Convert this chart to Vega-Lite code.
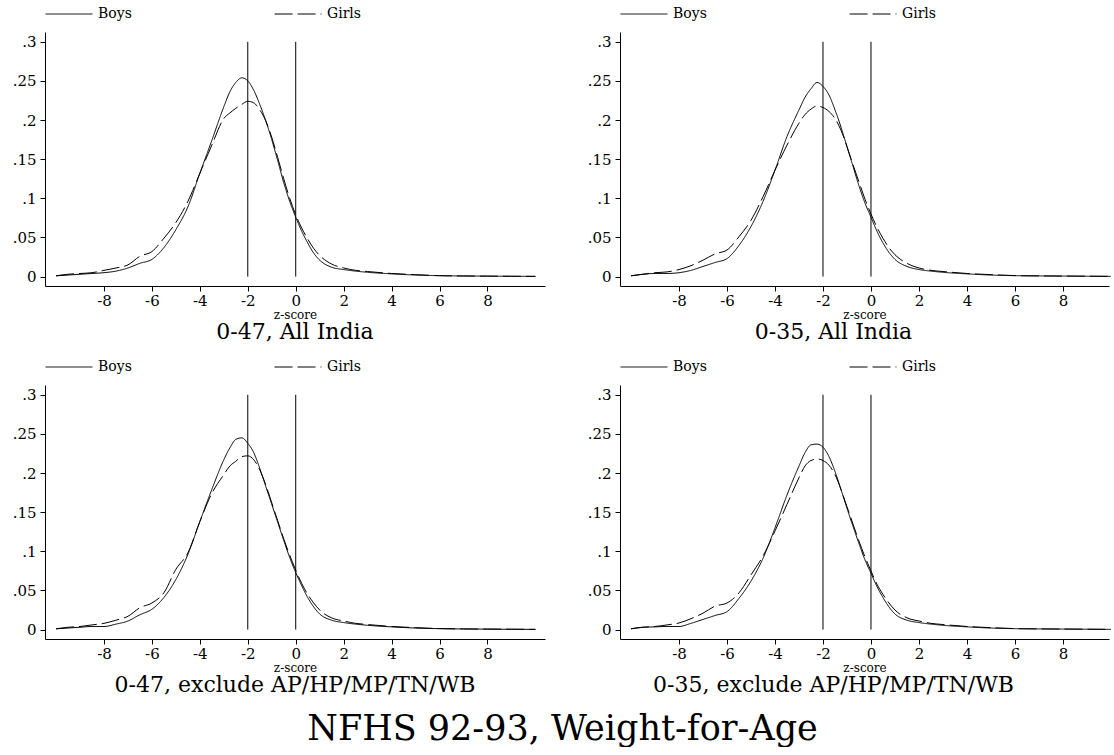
{
"$schema": "https://vega.github.io/schema/vega-lite/v6.json",
"padding": {"left": 12, "top": -10, "right": 0, "bottom": 0},
"config": {
  "font": "DejaVu Serif",
  "view": {"stroke": null},
  "axis": {"grid": false},
  "title": {"font": "DejaVu Serif", "fontWeight": "normal", "color": "black"}
},
"datasets": {
"p1": [
{"s":"Boys","z":-10,"d":0.001},{"s":"Boys","z":-9.5,"d":0.002},{"s":"Boys","z":-9,"d":0.003},{"s":"Boys","z":-8.5,"d":0.004},{"s":"Boys","z":-8,"d":0.005},{"s":"Boys","z":-7.5,"d":0.007},{"s":"Boys","z":-7,"d":0.011},{"s":"Boys","z":-6.5,"d":0.017},{"s":"Boys","z":-6,"d":0.022},{"s":"Boys","z":-5.5,"d":0.037},{"s":"Boys","z":-5,"d":0.060},{"s":"Boys","z":-4.5,"d":0.089},{"s":"Boys","z":-4,"d":0.132},{"s":"Boys","z":-3.5,"d":0.174},{"s":"Boys","z":-3,"d":0.217},{"s":"Boys","z":-2.75,"d":0.236},{"s":"Boys","z":-2.5,"d":0.248},{"s":"Boys","z":-2.25,"d":0.254},{"s":"Boys","z":-2,"d":0.250},{"s":"Boys","z":-1.75,"d":0.238},{"s":"Boys","z":-1.5,"d":0.220},{"s":"Boys","z":-1.25,"d":0.199},{"s":"Boys","z":-1,"d":0.175},{"s":"Boys","z":-0.75,"d":0.148},{"s":"Boys","z":-0.5,"d":0.120},{"s":"Boys","z":-0.25,"d":0.096},{"s":"Boys","z":0,"d":0.076},
{"s":"Boys","z":0.25,"d":0.058},{"s":"Boys","z":0.5,"d":0.043},{"s":"Boys","z":0.75,"d":0.030},{"s":"Boys","z":1,"d":0.021},{"s":"Boys","z":1.5,"d":0.012},{"s":"Boys","z":2,"d":0.009},{"s":"Boys","z":2.5,"d":0.007},{"s":"Boys","z":3,"d":0.0055},{"s":"Boys","z":4,"d":0.0035},{"s":"Boys","z":5,"d":0.002},{"s":"Boys","z":6,"d":0.0012},{"s":"Boys","z":7,"d":0.0008},{"s":"Boys","z":8,"d":0.0006},{"s":"Boys","z":9,"d":0.0004},{"s":"Boys","z":10,"d":0.0003},
{"s":"Girls","z":-10,"d":0.001},{"s":"Girls","z":-9.5,"d":0.003},{"s":"Girls","z":-9,"d":0.004},{"s":"Girls","z":-8.5,"d":0.005},{"s":"Girls","z":-8,"d":0.008},{"s":"Girls","z":-7.5,"d":0.011},{"s":"Girls","z":-7,"d":0.015},{"s":"Girls","z":-6.5,"d":0.026},{"s":"Girls","z":-6,"d":0.032},{"s":"Girls","z":-5.5,"d":0.049},{"s":"Girls","z":-5,"d":0.069},{"s":"Girls","z":-4.5,"d":0.096},{"s":"Girls","z":-4,"d":0.132},{"s":"Girls","z":-3.5,"d":0.168},{"s":"Girls","z":-3,"d":0.202},{"s":"Girls","z":-2.75,"d":0.209},{"s":"Girls","z":-2.5,"d":0.215},{"s":"Girls","z":-2.25,"d":0.220},{"s":"Girls","z":-2,"d":0.224},{"s":"Girls","z":-1.75,"d":0.222},{"s":"Girls","z":-1.5,"d":0.213},{"s":"Girls","z":-1.25,"d":0.199},{"s":"Girls","z":-1,"d":0.178},{"s":"Girls","z":-0.75,"d":0.152},{"s":"Girls","z":-0.5,"d":0.125},{"s":"Girls","z":-0.25,"d":0.100},{"s":"Girls","z":0,"d":0.079},
{"s":"Girls","z":0.25,"d":0.062},{"s":"Girls","z":0.5,"d":0.048},{"s":"Girls","z":0.75,"d":0.036},{"s":"Girls","z":1,"d":0.027},{"s":"Girls","z":1.5,"d":0.016},{"s":"Girls","z":2,"d":0.011},{"s":"Girls","z":2.5,"d":0.008},{"s":"Girls","z":3,"d":0.0065},{"s":"Girls","z":4,"d":0.004},{"s":"Girls","z":5,"d":0.0025},{"s":"Girls","z":6,"d":0.0012},{"s":"Girls","z":7,"d":0.0008},{"s":"Girls","z":8,"d":0.0006},{"s":"Girls","z":9,"d":0.0004},{"s":"Girls","z":10,"d":0.0003}
],
"p2": [
{"s":"Boys","z":-10,"d":0.001},{"s":"Boys","z":-9.5,"d":0.003},{"s":"Boys","z":-9,"d":0.004},{"s":"Boys","z":-8.5,"d":0.004},{"s":"Boys","z":-8,"d":0.005},{"s":"Boys","z":-7.5,"d":0.008},{"s":"Boys","z":-7,"d":0.013},{"s":"Boys","z":-6.5,"d":0.018},{"s":"Boys","z":-6,"d":0.023},{"s":"Boys","z":-5.5,"d":0.040},{"s":"Boys","z":-5,"d":0.064},{"s":"Boys","z":-4.5,"d":0.096},{"s":"Boys","z":-4,"d":0.136},{"s":"Boys","z":-3.5,"d":0.179},{"s":"Boys","z":-3,"d":0.213},{"s":"Boys","z":-2.75,"d":0.229},{"s":"Boys","z":-2.5,"d":0.240},{"s":"Boys","z":-2.25,"d":0.248},{"s":"Boys","z":-2,"d":0.243},{"s":"Boys","z":-1.75,"d":0.232},{"s":"Boys","z":-1.5,"d":0.213},{"s":"Boys","z":-1.25,"d":0.191},{"s":"Boys","z":-1,"d":0.166},{"s":"Boys","z":-0.75,"d":0.141},{"s":"Boys","z":-0.5,"d":0.116},{"s":"Boys","z":-0.25,"d":0.094},{"s":"Boys","z":0,"d":0.076},
{"s":"Boys","z":0.25,"d":0.058},{"s":"Boys","z":0.5,"d":0.043},{"s":"Boys","z":0.75,"d":0.031},{"s":"Boys","z":1,"d":0.022},{"s":"Boys","z":1.5,"d":0.013},{"s":"Boys","z":2,"d":0.009},{"s":"Boys","z":2.5,"d":0.007},{"s":"Boys","z":3,"d":0.0055},{"s":"Boys","z":4,"d":0.0035},{"s":"Boys","z":5,"d":0.002},{"s":"Boys","z":6,"d":0.0012},{"s":"Boys","z":7,"d":0.0009},{"s":"Boys","z":8,"d":0.0007},{"s":"Boys","z":9,"d":0.0005},{"s":"Boys","z":10,"d":0.0003},
{"s":"Girls","z":-10,"d":0.001},{"s":"Girls","z":-9.5,"d":0.003},{"s":"Girls","z":-9,"d":0.005},{"s":"Girls","z":-8.5,"d":0.006},{"s":"Girls","z":-8,"d":0.009},{"s":"Girls","z":-7.5,"d":0.014},{"s":"Girls","z":-7,"d":0.021},{"s":"Girls","z":-6.5,"d":0.029},{"s":"Girls","z":-6,"d":0.034},{"s":"Girls","z":-5.5,"d":0.051},{"s":"Girls","z":-5,"d":0.072},{"s":"Girls","z":-4.5,"d":0.102},{"s":"Girls","z":-4,"d":0.136},{"s":"Girls","z":-3.5,"d":0.168},{"s":"Girls","z":-3,"d":0.196},{"s":"Girls","z":-2.75,"d":0.207},{"s":"Girls","z":-2.5,"d":0.214},{"s":"Girls","z":-2.25,"d":0.218},{"s":"Girls","z":-2,"d":0.216},{"s":"Girls","z":-1.75,"d":0.211},{"s":"Girls","z":-1.5,"d":0.202},{"s":"Girls","z":-1.25,"d":0.187},{"s":"Girls","z":-1,"d":0.166},{"s":"Girls","z":-0.75,"d":0.143},{"s":"Girls","z":-0.5,"d":0.121},{"s":"Girls","z":-0.25,"d":0.099},{"s":"Girls","z":0,"d":0.080},
{"s":"Girls","z":0.25,"d":0.063},{"s":"Girls","z":0.5,"d":0.049},{"s":"Girls","z":0.75,"d":0.037},{"s":"Girls","z":1,"d":0.028},{"s":"Girls","z":1.5,"d":0.017},{"s":"Girls","z":2,"d":0.011},{"s":"Girls","z":2.5,"d":0.008},{"s":"Girls","z":3,"d":0.0065},{"s":"Girls","z":4,"d":0.004},{"s":"Girls","z":5,"d":0.0025},{"s":"Girls","z":6,"d":0.0013},{"s":"Girls","z":7,"d":0.0009},{"s":"Girls","z":8,"d":0.0007},{"s":"Girls","z":9,"d":0.0005},{"s":"Girls","z":10,"d":0.0003}
],
"p3": [
{"s":"Boys","z":-10,"d":0.001},{"s":"Boys","z":-9.5,"d":0.002},{"s":"Boys","z":-9,"d":0.003},{"s":"Boys","z":-8.5,"d":0.004},{"s":"Boys","z":-8,"d":0.004},{"s":"Boys","z":-7.5,"d":0.007},{"s":"Boys","z":-7,"d":0.011},{"s":"Boys","z":-6.5,"d":0.019},{"s":"Boys","z":-6,"d":0.026},{"s":"Boys","z":-5.5,"d":0.041},{"s":"Boys","z":-5,"d":0.064},{"s":"Boys","z":-4.5,"d":0.096},{"s":"Boys","z":-4,"d":0.138},{"s":"Boys","z":-3.5,"d":0.179},{"s":"Boys","z":-3,"d":0.217},{"s":"Boys","z":-2.75,"d":0.232},{"s":"Boys","z":-2.5,"d":0.243},{"s":"Boys","z":-2.25,"d":0.245},{"s":"Boys","z":-2,"d":0.238},{"s":"Boys","z":-1.75,"d":0.226},{"s":"Boys","z":-1.5,"d":0.206},{"s":"Boys","z":-1.25,"d":0.183},{"s":"Boys","z":-1,"d":0.160},{"s":"Boys","z":-0.75,"d":0.137},{"s":"Boys","z":-0.5,"d":0.114},{"s":"Boys","z":-0.25,"d":0.092},{"s":"Boys","z":0,"d":0.073},
{"s":"Boys","z":0.25,"d":0.056},{"s":"Boys","z":0.5,"d":0.041},{"s":"Boys","z":0.75,"d":0.029},{"s":"Boys","z":1,"d":0.020},{"s":"Boys","z":1.5,"d":0.012},{"s":"Boys","z":2,"d":0.009},{"s":"Boys","z":2.5,"d":0.007},{"s":"Boys","z":3,"d":0.0055},{"s":"Boys","z":4,"d":0.0035},{"s":"Boys","z":5,"d":0.002},{"s":"Boys","z":6,"d":0.0012},{"s":"Boys","z":7,"d":0.0008},{"s":"Boys","z":8,"d":0.0006},{"s":"Boys","z":9,"d":0.0004},{"s":"Boys","z":10,"d":0.0003},
{"s":"Girls","z":-10,"d":0.001},{"s":"Girls","z":-9.5,"d":0.003},{"s":"Girls","z":-9,"d":0.004},{"s":"Girls","z":-8.5,"d":0.006},{"s":"Girls","z":-8,"d":0.008},{"s":"Girls","z":-7.5,"d":0.012},{"s":"Girls","z":-7,"d":0.017},{"s":"Girls","z":-6.5,"d":0.028},{"s":"Girls","z":-6,"d":0.034},{"s":"Girls","z":-5.5,"d":0.047},{"s":"Girls","z":-5,"d":0.077},{"s":"Girls","z":-4.5,"d":0.098},{"s":"Girls","z":-4,"d":0.138},{"s":"Girls","z":-3.5,"d":0.174},{"s":"Girls","z":-3,"d":0.198},{"s":"Girls","z":-2.75,"d":0.209},{"s":"Girls","z":-2.5,"d":0.215},{"s":"Girls","z":-2.25,"d":0.221},{"s":"Girls","z":-2,"d":0.222},{"s":"Girls","z":-1.75,"d":0.217},{"s":"Girls","z":-1.5,"d":0.204},{"s":"Girls","z":-1.25,"d":0.185},{"s":"Girls","z":-1,"d":0.162},{"s":"Girls","z":-0.75,"d":0.139},{"s":"Girls","z":-0.5,"d":0.116},{"s":"Girls","z":-0.25,"d":0.095},{"s":"Girls","z":0,"d":0.076},
{"s":"Girls","z":0.25,"d":0.059},{"s":"Girls","z":0.5,"d":0.045},{"s":"Girls","z":0.75,"d":0.034},{"s":"Girls","z":1,"d":0.025},{"s":"Girls","z":1.5,"d":0.015},{"s":"Girls","z":2,"d":0.011},{"s":"Girls","z":2.5,"d":0.008},{"s":"Girls","z":3,"d":0.0065},{"s":"Girls","z":4,"d":0.004},{"s":"Girls","z":5,"d":0.0025},{"s":"Girls","z":6,"d":0.0013},{"s":"Girls","z":7,"d":0.0009},{"s":"Girls","z":8,"d":0.0007},{"s":"Girls","z":9,"d":0.0005},{"s":"Girls","z":10,"d":0.0003}
],
"p4": [
{"s":"Boys","z":-10,"d":0.001},{"s":"Boys","z":-9.5,"d":0.003},{"s":"Boys","z":-9,"d":0.0035},{"s":"Boys","z":-8.5,"d":0.004},{"s":"Boys","z":-8,"d":0.004},{"s":"Boys","z":-7.5,"d":0.008},{"s":"Boys","z":-7,"d":0.013},{"s":"Boys","z":-6.5,"d":0.018},{"s":"Boys","z":-6,"d":0.023},{"s":"Boys","z":-5.5,"d":0.040},{"s":"Boys","z":-5,"d":0.062},{"s":"Boys","z":-4.5,"d":0.091},{"s":"Boys","z":-4,"d":0.130},{"s":"Boys","z":-3.5,"d":0.172},{"s":"Boys","z":-3,"d":0.209},{"s":"Boys","z":-2.75,"d":0.226},{"s":"Boys","z":-2.5,"d":0.236},{"s":"Boys","z":-2.25,"d":0.237},{"s":"Boys","z":-2,"d":0.233},{"s":"Boys","z":-1.75,"d":0.221},{"s":"Boys","z":-1.5,"d":0.202},{"s":"Boys","z":-1.25,"d":0.179},{"s":"Boys","z":-1,"d":0.155},{"s":"Boys","z":-0.75,"d":0.132},{"s":"Boys","z":-0.5,"d":0.110},{"s":"Boys","z":-0.25,"d":0.089},{"s":"Boys","z":0,"d":0.072},
{"s":"Boys","z":0.25,"d":0.055},{"s":"Boys","z":0.5,"d":0.041},{"s":"Boys","z":0.75,"d":0.029},{"s":"Boys","z":1,"d":0.020},{"s":"Boys","z":1.5,"d":0.012},{"s":"Boys","z":2,"d":0.009},{"s":"Boys","z":2.5,"d":0.007},{"s":"Boys","z":3,"d":0.0055},{"s":"Boys","z":4,"d":0.0035},{"s":"Boys","z":5,"d":0.002},{"s":"Boys","z":6,"d":0.0012},{"s":"Boys","z":7,"d":0.0009},{"s":"Boys","z":8,"d":0.0007},{"s":"Boys","z":9,"d":0.0005},{"s":"Boys","z":10,"d":0.0003},
{"s":"Girls","z":-10,"d":0.001},{"s":"Girls","z":-9.5,"d":0.003},{"s":"Girls","z":-9,"d":0.004},{"s":"Girls","z":-8.5,"d":0.006},{"s":"Girls","z":-8,"d":0.0085},{"s":"Girls","z":-7.5,"d":0.014},{"s":"Girls","z":-7,"d":0.021},{"s":"Girls","z":-6.5,"d":0.030},{"s":"Girls","z":-6,"d":0.034},{"s":"Girls","z":-5.5,"d":0.047},{"s":"Girls","z":-5,"d":0.070},{"s":"Girls","z":-4.5,"d":0.094},{"s":"Girls","z":-4,"d":0.126},{"s":"Girls","z":-3.5,"d":0.160},{"s":"Girls","z":-3,"d":0.194},{"s":"Girls","z":-2.75,"d":0.209},{"s":"Girls","z":-2.5,"d":0.216},{"s":"Girls","z":-2.25,"d":0.218},{"s":"Girls","z":-2,"d":0.216},{"s":"Girls","z":-1.75,"d":0.210},{"s":"Girls","z":-1.5,"d":0.198},{"s":"Girls","z":-1.25,"d":0.179},{"s":"Girls","z":-1,"d":0.157},{"s":"Girls","z":-0.75,"d":0.135},{"s":"Girls","z":-0.5,"d":0.113},{"s":"Girls","z":-0.25,"d":0.093},{"s":"Girls","z":0,"d":0.075},
{"s":"Girls","z":0.25,"d":0.058},{"s":"Girls","z":0.5,"d":0.045},{"s":"Girls","z":0.75,"d":0.034},{"s":"Girls","z":1,"d":0.025},{"s":"Girls","z":1.5,"d":0.015},{"s":"Girls","z":2,"d":0.011},{"s":"Girls","z":2.5,"d":0.008},{"s":"Girls","z":3,"d":0.0065},{"s":"Girls","z":4,"d":0.004},{"s":"Girls","z":5,"d":0.0025},{"s":"Girls","z":6,"d":0.0013},{"s":"Girls","z":7,"d":0.0009},{"s":"Girls","z":8,"d":0.0007},{"s":"Girls","z":9,"d":0.0005},{"s":"Girls","z":10,"d":0.0003}
],
"refs": [{"z": -2}, {"z": 0}]
},
"title": {"text": "NFHS 92-93, Weight-for-Age", "orient": "bottom", "anchor": "middle", "fontSize": 35, "offset": 16},
"spacing": 0,
"resolve": {"scale": {"strokeDash": "independent", "x": "independent", "y": "independent"}, "legend": {"strokeDash": "independent"}},
"vconcat": [
 {"spacing": 42,
  "resolve": {"scale": {"strokeDash": "independent", "x": "independent", "y": "independent"}, "legend": {"strokeDash": "independent"}},
  "hconcat": [
  {"width": 500, "height": 254,
   "title": {"text": "0-47, All India", "orient": "bottom", "fontSize": 22, "offset": 2},
   "layer": [
    {"data": {"name": "p1"}, "mark": {"type": "line", "color": "black", "strokeWidth": 1, "interpolate": "monotone"},
     "encoding": {
      "x": {"field": "z", "type": "quantitative", "scale": {"domain": [-10.46, 10.4], "nice": false, "zero": false}, "axis": {"values": [-8,-6,-4,-2,0,2,4,6,8], "labelExpr": "'' + datum.value", "title": "z-score", "labelFont": "DejaVu Serif", "labelFontSize": 15, "labelColor": "black", "domainColor": "black", "tickColor": "black", "tickSize": 5, "labelPadding": 2, "titleFont": "DejaVu Serif", "titleFontSize": 12, "titleFontWeight": "normal", "titleColor": "black", "titlePadding": 1}},
      "y": {"field": "d", "type": "quantitative", "scale": {"domain": [-0.012, 0.3125], "nice": false}, "axis": {"values": [0,0.05,0.1,0.15,0.2,0.25,0.3], "labelExpr": "replace(format(datum.value, '.2~f'), '0.', '.')", "title": null, "labelFont": "DejaVu Serif", "labelFontSize": 15, "labelColor": "black", "domainColor": "black", "tickColor": "black", "tickSize": 5, "labelPadding": 4}},
      "strokeDash": {"field": "s", "type": "nominal", "scale": {"domain": ["Boys","Girls"], "range": [[1,0],[18,5]]}, "legend": {"title": null, "orient": "top", "direction": "horizontal", "symbolType": "stroke", "symbolSize": 2200, "symbolStrokeWidth": 1, "symbolStrokeColor": "black", "labelFont": "DejaVu Serif", "labelFontSize": 14, "labelColor": "black", "labelOffset": 5, "columnPadding": 140, "offset": 11}}
     }},
    {"data": {"name": "refs"}, "mark": {"type": "rule", "color": "black", "strokeWidth": 1},
     "encoding": {"x": {"field": "z", "type": "quantitative"}, "y": {"datum": 0}, "y2": {"datum": 0.3}}}
   ]},
  {"width": 489, "height": 254,
   "title": {"text": "0-35, All India", "orient": "bottom", "fontSize": 22, "offset": 2, "dx": -31},
   "layer": [
    {"data": {"name": "p2"}, "mark": {"type": "line", "color": "black", "strokeWidth": 1, "interpolate": "monotone"},
     "encoding": {
      "x": {"field": "z", "type": "quantitative", "scale": {"domain": [-10.46, 9.92], "nice": false, "zero": false}, "axis": {"values": [-8,-6,-4,-2,0,2,4,6,8], "labelExpr": "'' + datum.value", "title": "z-score", "labelFont": "DejaVu Serif", "labelFontSize": 15, "labelColor": "black", "domainColor": "black", "tickColor": "black", "tickSize": 5, "labelPadding": 2, "titleFont": "DejaVu Serif", "titleFontSize": 12, "titleFontWeight": "normal", "titleColor": "black", "titlePadding": 1}},
      "y": {"field": "d", "type": "quantitative", "scale": {"domain": [-0.012, 0.3125], "nice": false}, "axis": {"values": [0,0.05,0.1,0.15,0.2,0.25,0.3], "labelExpr": "replace(format(datum.value, '.2~f'), '0.', '.')", "title": null, "labelFont": "DejaVu Serif", "labelFontSize": 15, "labelColor": "black", "domainColor": "black", "tickColor": "black", "tickSize": 5, "labelPadding": 4}},
      "strokeDash": {"field": "s", "type": "nominal", "scale": {"domain": ["Boys","Girls"], "range": [[1,0],[18,5]]}, "legend": {"title": null, "orient": "top", "direction": "horizontal", "symbolType": "stroke", "symbolSize": 2200, "symbolStrokeWidth": 1, "symbolStrokeColor": "black", "labelFont": "DejaVu Serif", "labelFontSize": 14, "labelColor": "black", "labelOffset": 5, "columnPadding": 140, "offset": 11}}
     }},
    {"data": {"name": "refs"}, "mark": {"type": "rule", "color": "black", "strokeWidth": 1},
     "encoding": {"x": {"field": "z", "type": "quantitative"}, "y": {"datum": 0}, "y2": {"datum": 0.3}}}
   ]}
 ]},
 {"spacing": 42,
  "resolve": {"scale": {"strokeDash": "independent", "x": "independent", "y": "independent"}, "legend": {"strokeDash": "independent"}},
  "hconcat": [
  {"width": 500, "height": 254,
   "title": {"text": "0-47, exclude AP/HP/MP/TN/WB", "orient": "bottom", "fontSize": 22, "offset": 2},
   "layer": [
    {"data": {"name": "p3"}, "mark": {"type": "line", "color": "black", "strokeWidth": 1, "interpolate": "monotone"},
     "encoding": {
      "x": {"field": "z", "type": "quantitative", "scale": {"domain": [-10.46, 10.4], "nice": false, "zero": false}, "axis": {"values": [-8,-6,-4,-2,0,2,4,6,8], "labelExpr": "'' + datum.value", "title": "z-score", "labelFont": "DejaVu Serif", "labelFontSize": 15, "labelColor": "black", "domainColor": "black", "tickColor": "black", "tickSize": 5, "labelPadding": 2, "titleFont": "DejaVu Serif", "titleFontSize": 12, "titleFontWeight": "normal", "titleColor": "black", "titlePadding": 1}},
      "y": {"field": "d", "type": "quantitative", "scale": {"domain": [-0.012, 0.3125], "nice": false}, "axis": {"values": [0,0.05,0.1,0.15,0.2,0.25,0.3], "labelExpr": "replace(format(datum.value, '.2~f'), '0.', '.')", "title": null, "labelFont": "DejaVu Serif", "labelFontSize": 15, "labelColor": "black", "domainColor": "black", "tickColor": "black", "tickSize": 5, "labelPadding": 4}},
      "strokeDash": {"field": "s", "type": "nominal", "scale": {"domain": ["Boys","Girls"], "range": [[1,0],[18,5]]}, "legend": {"title": null, "orient": "top", "direction": "horizontal", "symbolType": "stroke", "symbolSize": 2200, "symbolStrokeWidth": 1, "symbolStrokeColor": "black", "labelFont": "DejaVu Serif", "labelFontSize": 14, "labelColor": "black", "labelOffset": 5, "columnPadding": 140, "offset": 11}}
     }},
    {"data": {"name": "refs"}, "mark": {"type": "rule", "color": "black", "strokeWidth": 1},
     "encoding": {"x": {"field": "z", "type": "quantitative"}, "y": {"datum": 0}, "y2": {"datum": 0.3}}}
   ]},
  {"width": 489, "height": 254,
   "title": {"text": "0-35, exclude AP/HP/MP/TN/WB", "orient": "bottom", "fontSize": 22, "offset": 2, "dx": -31},
   "layer": [
    {"data": {"name": "p4"}, "mark": {"type": "line", "color": "black", "strokeWidth": 1, "interpolate": "monotone"},
     "encoding": {
      "x": {"field": "z", "type": "quantitative", "scale": {"domain": [-10.46, 9.92], "nice": false, "zero": false}, "axis": {"values": [-8,-6,-4,-2,0,2,4,6,8], "labelExpr": "'' + datum.value", "title": "z-score", "labelFont": "DejaVu Serif", "labelFontSize": 15, "labelColor": "black", "domainColor": "black", "tickColor": "black", "tickSize": 5, "labelPadding": 2, "titleFont": "DejaVu Serif", "titleFontSize": 12, "titleFontWeight": "normal", "titleColor": "black", "titlePadding": 1}},
      "y": {"field": "d", "type": "quantitative", "scale": {"domain": [-0.012, 0.3125], "nice": false}, "axis": {"values": [0,0.05,0.1,0.15,0.2,0.25,0.3], "labelExpr": "replace(format(datum.value, '.2~f'), '0.', '.')", "title": null, "labelFont": "DejaVu Serif", "labelFontSize": 15, "labelColor": "black", "domainColor": "black", "tickColor": "black", "tickSize": 5, "labelPadding": 4}},
      "strokeDash": {"field": "s", "type": "nominal", "scale": {"domain": ["Boys","Girls"], "range": [[1,0],[18,5]]}, "legend": {"title": null, "orient": "top", "direction": "horizontal", "symbolType": "stroke", "symbolSize": 2200, "symbolStrokeWidth": 1, "symbolStrokeColor": "black", "labelFont": "DejaVu Serif", "labelFontSize": 14, "labelColor": "black", "labelOffset": 5, "columnPadding": 140, "offset": 11}}
     }},
    {"data": {"name": "refs"}, "mark": {"type": "rule", "color": "black", "strokeWidth": 1},
     "encoding": {"x": {"field": "z", "type": "quantitative"}, "y": {"datum": 0}, "y2": {"datum": 0.3}}}
   ]}
 ]}
]
}
